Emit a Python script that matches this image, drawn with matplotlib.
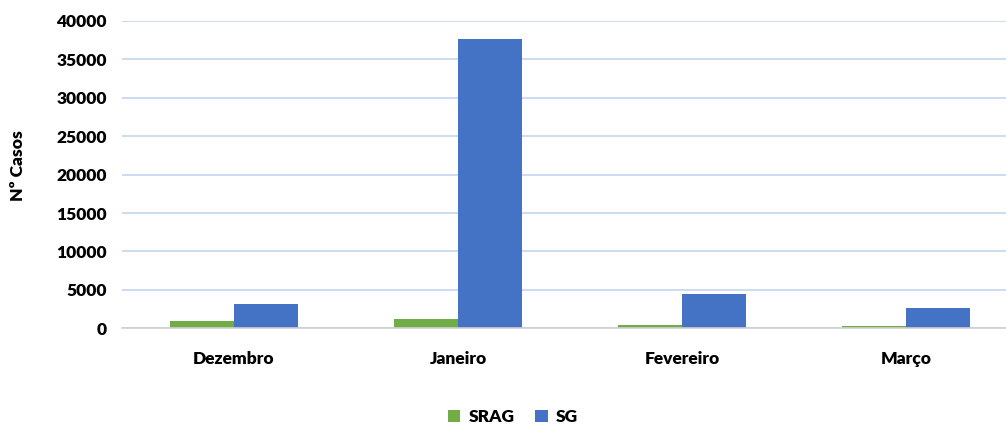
import numpy as np
from matplotlib import pyplot as plt

plt.rcParams["font.family"] = ["Lato", "DejaVu Sans"]
plt.rcParams["font.weight"] = "heavy"

meses = ["Dezembro", "Janeiro", "Fevereiro", "Março"]
srag = [1000, 1170, 470, 300]
sg = [3170, 37700, 4470, 2600]
series_names = ["SRAG", "SG"]
yticks = np.arange(0, 40001, 5000)

verde = "#70ad47"
azul = "#4472c4"
fs = 12.5

fig = plt.figure(figsize=(10.06, 4.24), dpi=100)
ax = fig.add_axes([122 / 1006, 95.7 / 424, (1006 - 122) / 1006, 307.3 / 424])

x = np.arange(len(meses))
w = 0.286
ax.bar(x - w / 2, srag, w, color=verde, label=series_names[0], zorder=3)
ax.bar(x + w / 2, sg, w, color=azul, label=series_names[1], zorder=3)

ax.set_xlim(-0.5, 3.5 - 12 / 224)
ax.set_ylim(0, 40000)
ax.set_yticks(yticks)
ax.set_yticklabels([str(v) for v in yticks], fontsize=fs, fontweight="heavy")
ax.set_xticks(x)
ax.set_xticklabels(meses, fontsize=fs, fontweight="heavy")
ax.tick_params(axis="both", length=0)
ax.tick_params(axis="x", pad=16)
ax.tick_params(axis="y", pad=11)
ax.yaxis.grid(True, color="#c3d6ee", linewidth=1.2, zorder=0)
for s in ["top", "right", "left"]:
    ax.spines[s].set_visible(False)
ax.spines["bottom"].set_color("#d0d0d0")
ax.spines["bottom"].set_linewidth(1.2)
ax.spines["bottom"].set_zorder(4)

ax.set_ylabel("Nº Casos", fontsize=fs, fontweight="heavy")
ax.yaxis.set_label_coords(-96 / 884, 0.53)

fig.legend(loc="center", bbox_to_anchor=(513 / 1006, 1 - 417 / 424), ncol=2,
           frameon=False, fontsize=fs, handlelength=0.7, handleheight=0.7,
           columnspacing=1.2, handletextpad=0.5)

fig.savefig("out.png", dpi=100)
